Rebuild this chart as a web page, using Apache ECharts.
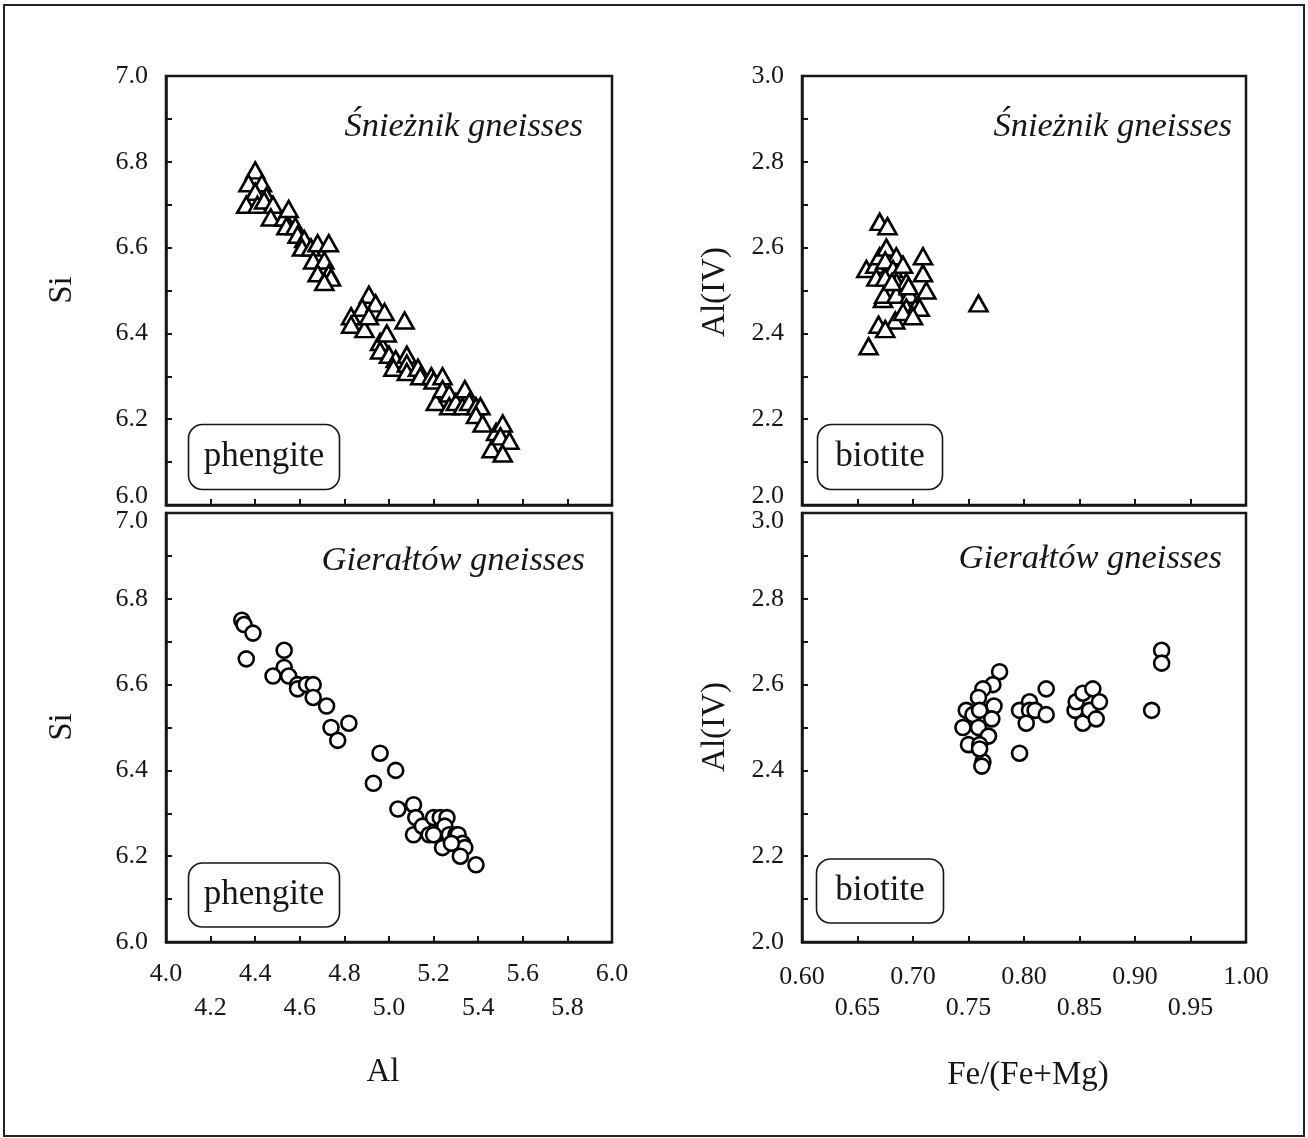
<!DOCTYPE html>
<html>
<head>
<meta charset="utf-8">
<script src="https://cdn.jsdelivr.net/npm/echarts@6/dist/echarts.min.js"></script>
<style>
html,body{margin:0;padding:0;background:#fff;}
#chart{width:1308px;height:1138px;}
</style>
</head>
<body>
<div id="chart"></div>
<script>
// Śnieżnik gneisses – phengite (Al vs Si)
const snPhAl = [4.40,4.37,4.43,4.40,4.45,4.36,4.41,4.44,4.48,4.47,4.53,4.55,4.54,4.58,4.59,4.62,4.61,4.65,4.68,4.73,4.66,4.71,4.68,4.73,4.74,4.71,
  4.91,4.83,4.88,4.94,4.98,4.83,4.89,4.91,5.07,4.96,4.99,4.96,5.00,5.03,5.02,5.08,5.08,5.08,5.13,5.14,5.19,5.20,5.24,5.21,5.24,5.27,5.27,5.30,5.34,5.33,5.36,5.39,5.41,5.39,5.42,5.48,5.51,5.46,5.50,5.54,5.51];
const snPhSi = [6.78,6.75,6.75,6.73,6.72,6.70,6.70,6.71,6.70,6.67,6.67,6.69,6.65,6.65,6.63,6.62,6.60,6.60,6.61,6.61,6.57,6.57,6.54,6.54,6.53,6.52,
  6.49,6.44,6.46,6.47,6.45,6.42,6.41,6.44,6.43,6.38,6.40,6.36,6.35,6.34,6.32,6.35,6.33,6.31,6.32,6.30,6.30,6.29,6.30,6.24,6.27,6.26,6.23,6.24,6.27,6.23,6.24,6.23,6.23,6.21,6.19,6.17,6.19,6.13,6.16,6.15,6.12];

// Gierałtów gneisses – phengite (Al vs Si)
const giPhAl = [4.34,4.35,4.39,4.36,4.53,4.53,4.48,4.55,4.59,4.59,4.63,4.66,4.66,4.72,4.74,4.82,4.77,4.96,5.03,4.93,
  5.04,5.11,5.11,5.12,5.15,5.20,5.23,5.26,5.18,5.21,5.25,5.24,5.27,5.30,5.31,5.33,5.34,5.32,5.39,5.20,5.28];
const giPhSi = [6.75,6.74,6.72,6.66,6.68,6.64,6.62,6.62,6.60,6.59,6.60,6.60,6.57,6.55,6.50,6.51,6.47,6.44,6.40,6.37,
  6.31,6.32,6.25,6.29,6.27,6.29,6.29,6.29,6.25,6.25,6.27,6.22,6.25,6.25,6.25,6.23,6.22,6.20,6.18,6.25,6.23];

// Śnieżnik gneisses – biotite (Fe/(Fe+Mg) vs Al(IV))
const snBtFe = [0.670,0.677,0.658,0.666,0.670,0.676,0.685,0.675,0.682,0.691,0.667,0.675,0.685,0.694,0.673,0.674,0.685,0.697,0.694,0.702,0.706,
  0.709,0.709,0.712,0.684,0.691,0.700,0.669,0.675,0.660,0.759,0.696,0.681];
const snBtAl = [2.66,2.65,2.55,2.56,2.58,2.60,2.58,2.57,2.55,2.56,2.53,2.53,2.52,2.52,2.48,2.49,2.49,2.49,2.46,2.46,2.46,
  2.58,2.54,2.50,2.43,2.45,2.44,2.42,2.41,2.37,2.47,2.51,2.52];

// Gierałtów gneisses – biotite (Fe/(Fe+Mg) vs Al(IV))
const giBtFe = [0.778,0.772,0.763,0.759,0.748,0.754,0.760,0.773,0.771,0.745,0.759,0.768,0.750,0.760,0.763,0.762,0.760,
  0.796,0.796,0.805,0.805,0.810,0.802,0.820,0.820,0.846,0.847,0.853,0.853,0.862,0.859,0.868,0.865,0.924,0.924,0.915];
const giBtAl = [2.63,2.60,2.59,2.57,2.54,2.53,2.54,2.55,2.52,2.50,2.50,2.48,2.46,2.46,2.42,2.41,2.45,
  2.44,2.54,2.56,2.54,2.54,2.51,2.53,2.59,2.54,2.56,2.58,2.51,2.59,2.54,2.56,2.52,2.68,2.65,2.54];

// Tick labels
const alTicks = ['4.0','4.2','4.4','4.6','4.8','5.0','5.2','5.4','5.6','5.8','6.0'];
const siTicks = ['6.0','6.2','6.4','6.6','6.8','7.0'];
const feTicks = ['0.60','0.65','0.70','0.75','0.80','0.85','0.90','0.95','1.00'];
const alivTicks = ['2.0','2.2','2.4','2.6','2.8','3.0'];

const FONT = '"Liberation Serif", "Times New Roman", serif';
const INK = '#161616';
const TICK_FS = 26;

const zip = (a, b) => a.map((v, i) => [v, b[i]]);

function xAxisDef(gridIndex, min, max, interval, ticks, dec, showLabels, margin, lowPad) {
  return {
    type: 'value', gridIndex, min, max, interval,
    axisLine: {show: true, lineStyle: {color: INK, width: 2.5}},
    axisTick: {show: true, inside: true, length: 6, lineStyle: {color: INK, width: 2}},
    splitLine: {show: false},
    axisLabel: {
      show: showLabels, margin,
      formatter: function (v) {
        const s = v.toFixed(dec);
        const idx = ticks.indexOf(s);
        if (idx < 0) return '';
        return idx % 2 === 0 ? '{a|' + s + '}' : '{b|' + s + '}';
      },
      rich: {
        a: {fontFamily: FONT, fontSize: TICK_FS, color: INK},
        b: {fontFamily: FONT, fontSize: TICK_FS, color: INK, padding: [lowPad, 0, 0, 0]}
      }
    }
  };
}

function yAxisDef(gridIndex, min, max, ticks, shiftMin, shiftMax) {
  return {
    type: 'value', gridIndex, min, max, interval: 0.1,
    axisLine: {show: true, lineStyle: {color: INK, width: 2.5}},
    axisTick: {show: true, inside: true, length: 6, lineStyle: {color: INK, width: 2}},
    splitLine: {show: false},
    axisLabel: {
      margin: 18,
      formatter: function (v) {
        const s = v.toFixed(1);
        if (ticks.indexOf(s) < 0) return '';
        if (shiftMin && s === ticks[0]) return '{up|' + s + '}';
        if (shiftMax && s === ticks[ticks.length - 1]) return '{dn|' + s + '}';
        return '{n|' + s + '}';
      },
      rich: {
        n: {fontFamily: FONT, fontSize: TICK_FS, color: INK},
        up: {fontFamily: FONT, fontSize: TICK_FS, color: INK, padding: [0, 0, 17, 0]},
        dn: {fontFamily: FONT, fontSize: TICK_FS, color: INK, padding: [17, 0, 0, 0]}
      }
    }
  };
}

const gridBase = {show: true, borderColor: INK, borderWidth: 2.5, backgroundColor: 'transparent', containLabel: false};

const markStyle = {color: '#ffffff', borderColor: '#000000', borderWidth: 2.6, opacity: 1};

function boxLabel(cx, cy, w, h, txt) {
  return {
    type: 'group', x: cx, y: cy, z: 50,
    children: [
      {type: 'rect', shape: {x: -w / 2, y: -h / 2, width: w, height: h, r: 14},
        style: {fill: '#fff', stroke: INK, lineWidth: 1.6}},
      {type: 'text', x: 0, y: 0,
        style: {text: txt, fontFamily: FONT, fontSize: 35, fill: INK, textAlign: 'center', textVerticalAlign: 'middle'}}
    ]
  };
}

function titleText(xr, cy, txt) {
  return {type: 'text', x: xr, y: cy, z: 50,
    style: {text: txt, fontFamily: FONT, fontSize: 34.5, fontStyle: 'italic', fill: INK, textAlign: 'right', textVerticalAlign: 'middle'}};
}

function axisTitle(cx, cy, txt, rot) {
  return {type: 'text', x: cx, y: cy, rotation: rot ? Math.PI / 2 : 0, z: 50,
    style: {text: txt, fontFamily: FONT, fontSize: 33, fill: INK, textAlign: 'center', textVerticalAlign: 'middle'}};
}

const scatterBase = {type: 'scatter', itemStyle: markStyle, emphasis: {disabled: true}, silent: true};

const option = {
  animation: false,
  backgroundColor: '#ffffff',
  grid: [
    Object.assign({left: 166, top: 76, width: 446, height: 429}, gridBase),
    Object.assign({left: 166, top: 513, width: 446, height: 429}, gridBase),
    Object.assign({left: 802, top: 76, width: 444, height: 429}, gridBase),
    Object.assign({left: 802, top: 513, width: 444, height: 429}, gridBase)
  ],
  xAxis: [
    xAxisDef(0, 4.0, 6.0, 0.2, alTicks, 1, false, 20, 33),
    xAxisDef(1, 4.0, 6.0, 0.2, alTicks, 1, true, 19, 34),
    xAxisDef(2, 0.60, 1.00, 0.05, feTicks, 2, false, 22, 30),
    xAxisDef(3, 0.60, 1.00, 0.05, feTicks, 2, true, 22, 31)
  ],
  yAxis: [
    yAxisDef(0, 6.0, 7.0, siTicks, true, false),
    yAxisDef(1, 6.0, 7.0, siTicks, false, true),
    yAxisDef(2, 2.0, 3.0, alivTicks, true, false),
    yAxisDef(3, 2.0, 3.0, alivTicks, false, true)
  ],
  series: [
    Object.assign({xAxisIndex: 0, yAxisIndex: 0, symbol: 'triangle', symbolSize: [18, 16], data: zip(snPhAl, snPhSi)}, scatterBase),
    Object.assign({xAxisIndex: 1, yAxisIndex: 1, symbol: 'circle', symbolSize: 15, data: zip(giPhAl, giPhSi)}, scatterBase),
    Object.assign({xAxisIndex: 2, yAxisIndex: 2, symbol: 'triangle', symbolSize: [18, 16], data: zip(snBtFe, snBtAl)}, scatterBase),
    Object.assign({xAxisIndex: 3, yAxisIndex: 3, symbol: 'circle', symbolSize: 15, data: zip(giBtFe, giBtAl)}, scatterBase)
  ],
  graphic: [
    {type: 'rect', shape: {x: 4, y: 5, width: 1300, height: 1131}, style: {fill: 'none', stroke: '#222', lineWidth: 2}, z: 40},
    titleText(583, 127, 'Śnieżnik gneisses'),
    titleText(585, 561, 'Gierałtów gneisses'),
    titleText(1232, 127, 'Śnieżnik gneisses'),
    titleText(1222, 559, 'Gierałtów gneisses'),
    boxLabel(264, 457, 151, 65, 'phengite'),
    boxLabel(264, 895, 151, 64, 'phengite'),
    boxLabel(880, 457, 125, 65, 'biotite'),
    boxLabel(880, 891, 127, 64, 'biotite'),
    axisTitle(62, 290, 'Si', true),
    axisTitle(62, 727, 'Si', true),
    axisTitle(715, 292, 'Al(IV)', true),
    axisTitle(715, 727, 'Al(IV)', true),
    axisTitle(383, 1072, 'Al', false),
    axisTitle(1028, 1075, 'Fe/(Fe+Mg)', false)
  ]
};

const chart = echarts.init(document.getElementById('chart'), null, {renderer: 'canvas'});
chart.setOption(option);
</script>
</body>
</html>
